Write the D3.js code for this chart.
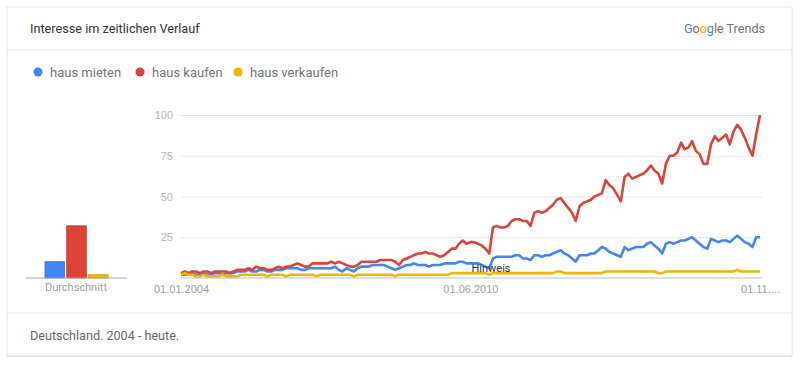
<!DOCTYPE html>
<meta charset="utf-8">
<style>
body {margin: 0; background: #fff; font-family: Roboto, "Noto Sans", sans-serif;}
.grid line {stroke: #e6e6e6; stroke-width: 1px;}
.grid text {fill: #b5b5b5; font-size: 11px;}
.xaxis text {fill: #9e9e9e; font-size: 11px;}
.series {fill: none; stroke-width: 2.6px; stroke-linejoin: round;}
</style>
<body>
<script src="https://d3js.org/d3.v7.min.js"></script>
<script>
var width = 800, height = 365

// monthly values, 2004-01 .. 2016-11
var names = ["haus mieten", "haus kaufen", "haus verkaufen"]
var colors = ["#4285f4", "#db4437", "#f4b400"]
var averages = [10, 32, 2]
var tickLabels = ["01.01.2004", "01.06.2010", "01.11...."]

var mieten = [
  2,2,2,3,2,2,3,2,2,3, 3,2,3,3,3,4,4,4,5,4, 4,5,5,4,4,5,5,5,6,6,
  6,6,5,5,6,6,6,6,6,6, 6,7,5,4,6,5,4,6,7,7, 7,8,8,8,8,7,6,5,6,7,
  8,8,9,8,8,8,7,8,8,8, 9,9,9,9,10,10,9,9,9,9, 8,7,6,12,13,13,13,13,13,14,
  14,12,12,11,14,14,13,14,14,15, 16,17,15,14,12,10,14,14,14,15,
  15,17,19,18,16,15,14,13,19,17, 18,19,19,19,21,22,20,18,15,21,
  22,21,22,23,23,24,25,23,21,19, 18,24,23,22,23,23,22,24,26,24,
  22,21,19,25,25]
var kaufen = [
  3,4,3,4,4,3,4,4,3,4, 4,4,4,3,4,5,5,5,6,5, 7,6,6,5,5,6,7,6,7,7,
  8,9,8,7,7,9,9,9,9,9, 10,9,10,9,8,7,7,8,10,10, 10,10,10,11,11,11,11,10,8,11,
  12,13,14,15,15,16,15,15,14,13, 14,16,18,18,21,23,21,22,22,21,
  20,18,15,31,32,31,31,32,35,36, 36,35,35,32,40,41,40,41,43,45,
  48,49,46,43,40,35,44,46,47,48, 50,51,52,60,57,55,51,47,62,64,
  61,62,63,64,66,69,66,64,58,70, 75,75,77,83,79,80,84,78,76,70,
  70,82,87,84,86,88,82,90,94,91, 86,80,75,88,100]
var verkaufen = [
  2,3,2,2,1,1,2,1,1,1, 1,2,1,1,1,1,2,2,2,2, 2,2,2,1,2,2,2,2,1,2,
  2,2,2,2,2,2,1,2,2,2, 2,2,2,2,2,2,1,2,2,2, 2,2,2,2,2,2,2,1,2,2,
  2,2,2,2,2,2,2,2,2,2, 2,2,3,3,3,3,3,3,3,3, 3,3,2,3,3,3,3,3,3,3,
  3,3,3,3,3,3,3,3,3,3, 4,4,3,3,3,3,3,3,3,3, 3,3,3,4,4,4,4,4,4,4,
  4,4,4,4,4,4,4,3,3,4, 4,4,4,4,4,4,4,4,4,4, 4,4,4,4,4,4,4,4,5,4,
  4,4,4,4,4]
var months = d3.timeMonth.range(new Date(2004, 0, 1), new Date(2016, 11, 1))
var tickDates = [new Date(2004, 0, 1), new Date(2010, 5, 1), new Date(2016, 10, 1)]
var series = [mieten, kaufen, verkaufen]

var svg = d3.select("body").append("svg")
  .attr("width", width).attr("height", height)

// card
svg.append("rect").attr("x", 7).attr("y", 9).attr("width", 785).attr("height", 348)
  .attr("fill", "#d6d6d6")
svg.append("rect").attr("x", 7).attr("y", 7).attr("width", 785).attr("height", 349)
  .attr("fill", "#fff").attr("stroke", "#e4e4e4")
svg.append("line").attr("x1", 7).attr("x2", 792).attr("y1", 50).attr("y2", 50)
  .attr("stroke", "#e4e4e4")
svg.append("line").attr("x1", 7).attr("x2", 792).attr("y1", 313).attr("y2", 313)
  .attr("stroke", "#e4e4e4")

svg.append("text").attr("x", 30).attr("y", 33)
  .attr("font-size", 12.7).attr("fill", "#333").text("Interesse im zeitlichen Verlauf")
svg.append("text").attr("x", 765).attr("y", 33).attr("text-anchor", "end")
  .attr("font-size", 12.6).attr("fill", "#555")
  .call(function(t) {
    var g = [["G", "#4285f4"], ["o", "#db4437"], ["o", "#f4b400"], ["g", "#4285f4"], ["l", "#0f9d58"], ["e", "#db4437"]]
    g.forEach(function(d) { t.append("tspan").attr("fill", d[1]).text(d[0]) })
    t.append("tspan").attr("fill", "#757575").text(" Trends")
  })

svg.append("text").attr("x", 30).attr("y", 340)
  .attr("font-size", 12.6).attr("fill", "#666").text("Deutschland. 2004 - heute.")

// legend
var legendX = [38, 140, 238]
var leg = svg.selectAll(".leg").data(names).enter().append("g")
  .attr("transform", function(d, i) { return "translate(" + legendX[i] + ",72)" })
leg.append("circle").attr("r", 4.5).attr("fill", function(d, i) { return colors[i] })
leg.append("text").attr("x", 12).attr("dy", "0.35em")
  .attr("font-size", 13).attr("fill", "#757575").text(function(d) { return d })

// scales
var x = d3.scaleTime().domain([months[0], months[months.length - 1]]).range([181, 760])
var y = d3.scaleLinear().domain([0, 100]).range([278, 115])

svg.append("g").attr("class", "grid").attr("transform", "translate(181,0)")
  .call(d3.axisLeft(y).tickValues([25, 50, 75, 100]).tickSize(-581).tickPadding(8))
  .call(function(g) { g.select(".domain").remove() })

svg.append("g").attr("class", "xaxis").attr("transform", "translate(0,278)")
  .call(d3.axisBottom(x).tickValues(tickDates).tickSize(0).tickPadding(7)
    .tickFormat(function(d, i) { return tickLabels[i] }))
  .call(function(g) { g.select(".domain").remove() })
svg.append("line").attr("x1", 181).attr("x2", 762).attr("y1", y(0)).attr("y2", y(0))
  .attr("stroke", "#bdbdbd")

// average bars
var xb = d3.scaleBand().domain(names).range([45, 108]).paddingInner(0.1)
svg.selectAll(".bar").data(averages).enter().append("rect")
  .attr("x", function(d, i) { return xb(names[i]) })
  .attr("width", xb.bandwidth())
  .attr("y", function(d) { return y(d) })
  .attr("height", function(d) { return y(0) - y(d) })
  .attr("fill", function(d, i) { return colors[i] })
  .attr("stroke", function(d, i) { return d3.color(colors[i]).darker(0.5) })
  .attr("stroke-width", 0.8)
svg.append("line").attr("x1", 26).attr("x2", 127).attr("y1", y(0)).attr("y2", y(0))
  .attr("stroke", "#a8a8a8")
svg.append("text").attr("x", 76).attr("y", 291).attr("text-anchor", "middle")
  .attr("font-size", 11).attr("fill", "#9e9e9e").text("Durchschnitt")

// lines
var line = d3.line().x(function(d, i) { return x(months[i]) }).y(function(d) { return y(d) })
svg.selectAll(".series").data(series).enter().append("path")
  .attr("class", "series")
  .attr("stroke", function(d, i) { return colors[i] })
  .attr("d", line)

svg.append("text").attr("x", 491).attr("y", 272).attr("text-anchor", "middle")
  .attr("font-size", 11).attr("fill", "#333").text("Hinweis")
</script>
